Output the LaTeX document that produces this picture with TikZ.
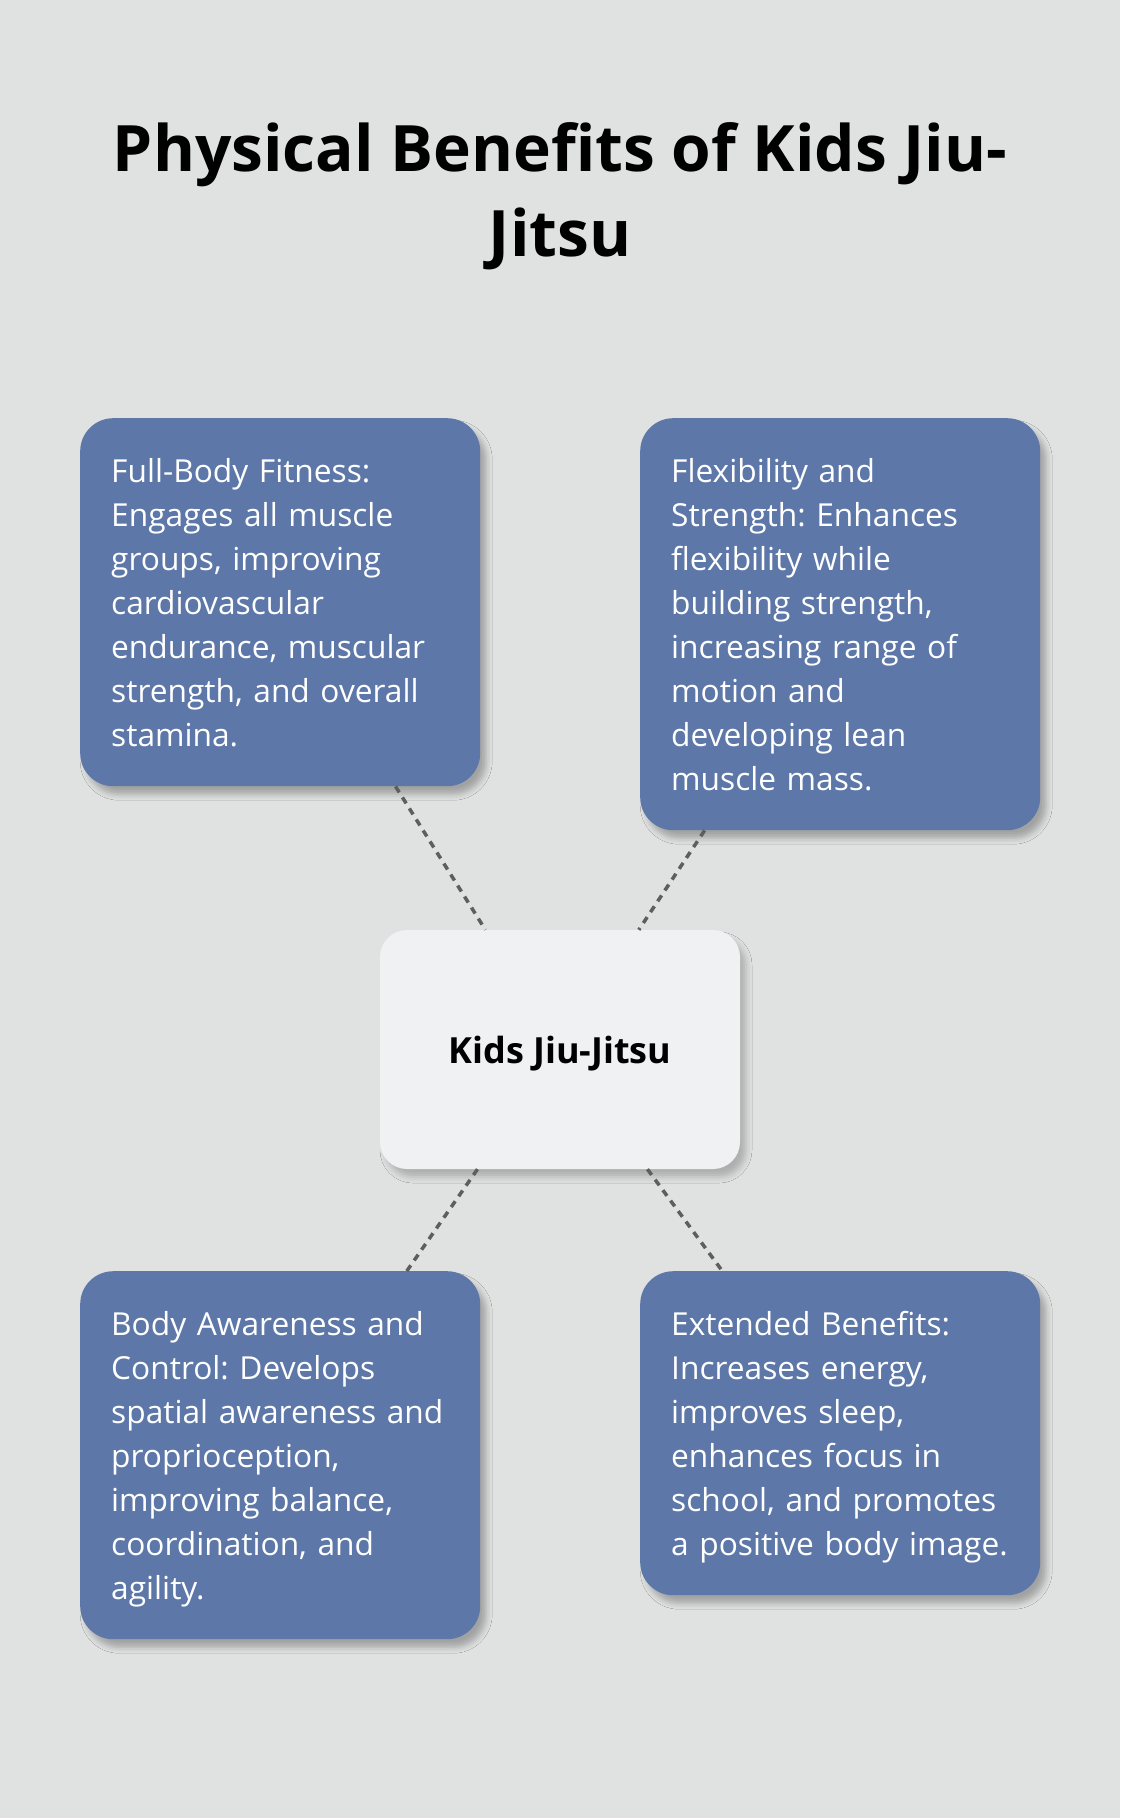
\documentclass[tikz,border=0pt]{standalone}
\usepackage{fontspec}
\setmainfont{Open Sans}
\usetikzlibrary{shadows.blur}
\definecolor{bgc}{HTML}{E0E2E1}
\definecolor{boxblue}{HTML}{5C77A8}
\definecolor{centerfill}{HTML}{F0F1F3}
\definecolor{lineg}{HTML}{5E5E5E}
\newcommand{\lnstrut}{\rule[-9.6pt]{0pt}{44pt}}
\frenchspacing
\begin{document}
\begin{tikzpicture}[x=1pt,y=1pt,
  card/.style={fill=boxblue, rounded corners=33pt, text=white, text width=338pt,
    align=left, inner xsep=31pt, inner ysep=30pt, anchor=north west,
    font=\fontsize{31.7}{44}\selectfont,
    blur shadow={shadow xshift=6pt, shadow yshift=-8pt, shadow blur radius=6pt, shadow opacity=28}},
  hub/.style={fill=centerfill, rounded corners=27pt, minimum width=360pt, minimum height=239pt,
    inner sep=0pt, font=\fontsize{36}{44}\selectfont\bfseries, text height=27pt, text depth=0pt,
    blur shadow={shadow xshift=6pt, shadow yshift=-8pt, shadow blur radius=6pt, shadow opacity=22}},
  titletext/.style={font=\fontsize{64}{85}\selectfont\bfseries, anchor=base, inner sep=0pt},
  conn/.style={draw=lineg, line width=3.5pt, dash pattern=on 7pt off 6pt}]
\fill[bgc] (0,0) rectangle (1120,-1818);
\useasboundingbox (0,0) rectangle (1120,-1818);

\node[titletext] (t1) at (560,-171) {Physical Benefits of Kids Jiu-};
\node[titletext] (t2) at (560,-256) {Jitsu};

\node[card] (tl) at (80,-418) {\lnstrut Full-Body Fitness:\\Engages all muscle\\groups, improving\\cardiovascular\\\mbox{endurance, muscular}\\\mbox{strength, and overall}\\stamina.\lnstrut};
\node[card] (tr) at (640,-418) {\lnstrut Flexibility and\\Strength: Enhances\\flexibility while\\building strength,\\increasing range of\\motion and\\developing lean\\muscle mass.\lnstrut};
\node[card] (bl) at (80,-1271) {\lnstrut Body Awareness and\\Control: Develops\\\mbox{spatial awareness and}\\proprioception,\\improving balance,\\coordination, and\\agility.\lnstrut};
\node[card] (br) at (640,-1271) {\lnstrut Extended Benefits:\\Increases energy,\\improves sleep,\\enhances focus in\\\mbox{school, and promotes}\\\mbox{a positive body image.}\lnstrut};

\node[hub] (c) at (560,-1049.5) {Kids Jiu-Jitsu};

\draw[conn] (tl) -- (c);
\draw[conn] (tr) -- (c);
\draw[conn] (c) -- (bl);
\draw[conn] (c) -- (br);
\end{tikzpicture}
\end{document}
